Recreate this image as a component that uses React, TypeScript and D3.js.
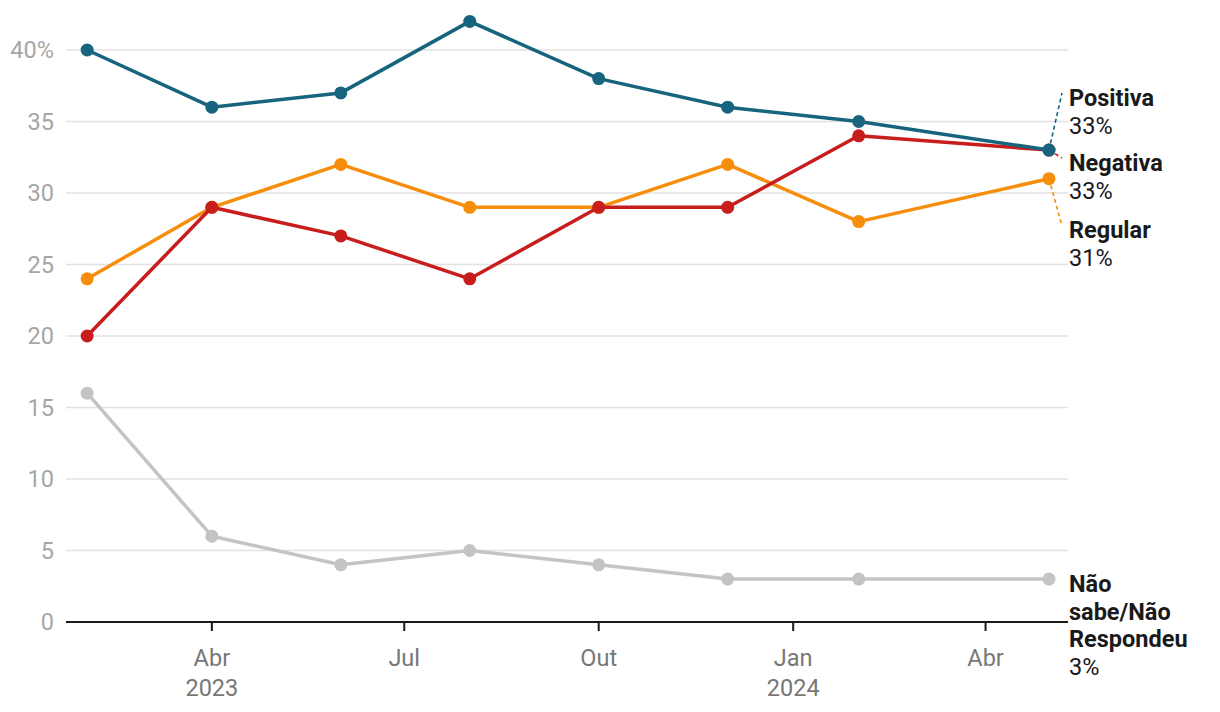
import React from "react";
import * as d3 from "d3";

const dates = ["2023-02-01", "2023-04-01", "2023-06-01", "2023-08-01", "2023-10-01", "2023-12-01", "2024-02-01", "2024-05-01"];
const positiva = [40, 36, 37, 42, 38, 36, 35, 33];
const negativa = [20, 29, 27, 24, 29, 29, 34, 33];
const regular = [24, 29, 32, 29, 29, 32, 28, 31];
const naoSabe = [16, 6, 4, 5, 4, 3, 3, 3];
const yTicks = [0, 5, 10, 15, 20, 25, 30, 35, 40];
const xTicks = ["2023-04-01", "2023-07-01", "2023-10-01", "2024-01-01", "2024-04-01"];
const monthNames = ["Jan", "Fev", "Mar", "Abr", "Mai", "Jun", "Jul", "Ago", "Set", "Out", "Nov", "Dez"];

const series = [
  { name: ["Não", "sabe/Não", "Respondeu"], values: naoSabe, color: "#c4c4c4", labelY: 592, connY: 0 },
  { name: ["Regular"], values: regular, color: "#f68e0b", labelY: 238, connY: 226 },
  { name: ["Negativa"], values: negativa, color: "#c71e1d", labelY: 171, connY: 158 },
  { name: ["Positiva"], values: positiva, color: "#17647e", labelY: 106, connY: 93 },
];

const parse = d3.utcParse("%Y-%m-%d");

export default function App() {
  const W = 1220, H = 712;
  const x = d3.scaleUtc().domain([parse("2023-01-22")!, parse("2024-05-10")!]).range([66, 1068]);
  const y = d3.scaleLinear().domain([0, 40]).range([622, 50]);
  const font = "Roboto, 'Noto Sans', sans-serif";
  const pts = dates.map((d) => parse(d)!);
  const line = d3.line<number>().x((_, i) => x(pts[i])).y((v) => y(v));
  const lastX = x(pts[pts.length - 1]);
  const fs = 23.5;

  return (
    <svg width={W} height={H} style={{ position: "absolute", left: 0, top: 0, fontFamily: font }}>
      {yTicks.map((t) => (
        <g key={t}>
          {t > 0 && <line x1={66} x2={1068} y1={y(t)} y2={y(t)} stroke="#e2e2e2" strokeWidth={1.5} />}
          <text x={54} y={y(t)} dy="0.35em" textAnchor="end" fill="#a6a6a6" fontSize={fs}>
            {t === 40 ? "40%" : t}
          </text>
        </g>
      ))}
      <line x1={66} x2={1068} y1={y(0)} y2={y(0)} stroke="#1a1a1a" strokeWidth={2} />
      {xTicks.map((t) => {
        const d = parse(t)!;
        const m = d.getUTCMonth();
        return (
          <g key={t}>
            <line x1={x(d)} x2={x(d)} y1={y(0)} y2={y(0) + 9} stroke="#1a1a1a" strokeWidth={2} />
            <text x={x(d)} y={666} textAnchor="middle" fill="#777" fontSize={fs}>{monthNames[m]}</text>
            {m === 0 || (m === 3 && d.getUTCFullYear() === 2023) ? (
              <text x={x(d)} y={696} textAnchor="middle" fill="#777" fontSize={fs}>{d.getUTCFullYear()}</text>
            ) : null}
          </g>
        );
      })}
      {series.map((s) => {
        const lv = s.values[s.values.length - 1];
        const lineCount = s.name.length;
        const pctY = s.labelY + lineCount * 27.7;
        const showConn = s.connY > 0;
        return (
          <g key={s.name.join(" ")}>
            <path d={line(s.values)!} fill="none" stroke={s.color} strokeWidth={3.5} strokeLinejoin="round" />
            {s.values.map((v, i) => (
              <circle key={i} cx={x(pts[i])} cy={y(v)} r={6.5} fill={s.color} />
            ))}
            {showConn && (
              <line x1={lastX} y1={y(lv)} x2={1062} y2={s.connY} stroke={s.color} strokeWidth={1.6} strokeDasharray="4,3" />
            )}
            {s.name.map((n, i) => (
              <text key={n} x={1069} y={s.labelY + i * 27.7} fill="#1a1a1a" fontSize={fs} fontWeight="bold">{n}</text>
            ))}
            <text x={1069} y={pctY} fill="#1a1a1a" fontSize={fs}>{lv}%</text>
          </g>
        );
      })}
    </svg>
  );
}
